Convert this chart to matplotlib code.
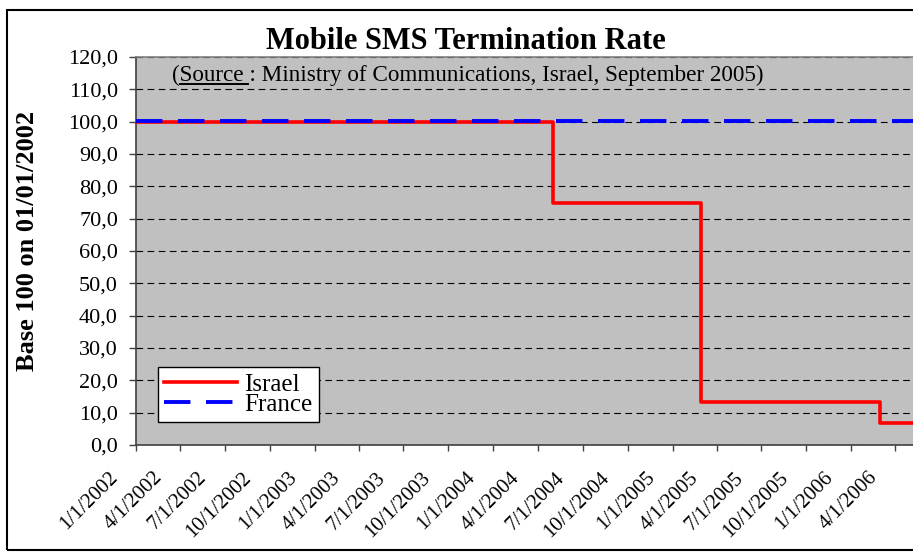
import matplotlib
matplotlib.use('Agg')
import matplotlib.pyplot as plt
import matplotlib.dates as mdates
import matplotlib.transforms as mtransforms
from matplotlib.lines import Line2D
from matplotlib.patches import Rectangle
from matplotlib.ticker import FuncFormatter
from matplotlib.font_manager import FontProperties
from datetime import datetime

plt.rcParams['font.family'] = ['Liberation Serif', 'DejaVu Serif']

# quarterly category labels on the x axis
tick_labels = ['1/1/2002', '4/1/2002', '7/1/2002', '10/1/2002',
               '1/1/2003', '4/1/2003', '7/1/2003', '10/1/2003',
               '1/1/2004', '4/1/2004', '7/1/2004', '10/1/2004',
               '1/1/2005', '4/1/2005', '7/1/2005', '10/1/2005',
               '1/1/2006', '4/1/2006']

# Israel: step changes of the rate (base 100)
israel_dates = ['1/1/2002', '5/1/2004', '3/1/2005', '3/1/2006', '5/7/2006']
israel_values = [100.0, 74.8, 13.3, 6.7, 6.7]

# France: flat at base 100
france_dates = ['1/1/2002', '5/7/2006']
france_values = [100.3, 100.3]


def to_date(s):
    return datetime.strptime(s, '%m/%d/%Y')


W, H = 913, 553
fig = plt.figure(figsize=(W / 100, H / 100), dpi=100)
ax = fig.add_axes([136 / W, 1 - 445 / H, (W - 136) / W, (445 - 57) / H])
ax.set_facecolor('#C0C0C0')

ax.plot([to_date(d) for d in israel_dates], israel_values, drawstyle='steps-post',
        color='#FF0000', lw=2.6, label='Israel', zorder=3)
ax.plot([to_date(d) for d in france_dates], france_values,
        color='#0000FF', lw=2.8, ls=(0, (6.8, 4)), label='France', zorder=4)

ax.set_xlim(to_date('1/1/2002'), to_date('5/7/2006'))
ax.set_ylim(0, 120)
ax.set_yticks(range(0, 121, 10))
ax.yaxis.set_major_formatter(FuncFormatter(lambda v, p: f'{v:.1f}'.replace('.', ',')))
ax.set_xticks([mdates.date2num(to_date(s)) for s in tick_labels])
ax.set_xticklabels(tick_labels, rotation=45, ha='right')

ax.tick_params(axis='x', direction='out', length=4.3, width=1, color='#404040',
               pad=12.5, labelsize=15)
ax.tick_params(axis='y', direction='out', length=5.0, width=1, color='#404040',
               pad=8, labelsize=16)
# shift the slanted date labels a little to the left of their ticks
for lbl in ax.get_xticklabels():
    lbl.set_transform(lbl.get_transform() +
                      mtransforms.ScaledTranslation(-14 / 100, 0, fig.dpi_scale_trans))

ax.yaxis.grid(True, color='black', ls=(0, (6, 4)), lw=0.8)
ax.set_axisbelow(True)
ax.spines['right'].set_visible(False)
ax.spines['top'].set_color('#808080')
ax.spines['left'].set_color('#404040')
ax.spines['bottom'].set_color('#404040')
for s in ('left', 'bottom', 'top'):
    ax.spines[s].set_linewidth(1.2)

leg = ax.legend(loc='upper left', bbox_to_anchor=(158 / W, 1 - 367 / H),
                bbox_transform=fig.transFigure, fancybox=False, edgecolor='black',
                framealpha=1, fontsize=18, handlelength=2.9, handletextpad=0.3,
                borderpad=0.25, labelspacing=-0.1, borderaxespad=0)
leg.get_frame().set_linewidth(1.0)

fig.text(466 / W, 1 - 49 / H, 'Mobile SMS Termination Rate', ha='center', va='baseline',
         fontsize=22, fontweight='bold')
fig.text(28 / W, 1 - 241 / H, 'Base 100 on 01/01/2002', rotation=90, ha='center',
         va='center', fontsize=19, fontweight='bold')

sub_x, sub_y = 172, 81
sub_size = 16.7
fig.text(sub_x / W, 1 - sub_y / H,
         '(Source : Ministry of Communications, Israel, September 2005)',
         ha='left', va='baseline', fontsize=sub_size)

# underline under "Source"
renderer = fig.canvas.get_renderer()
fp = FontProperties(family=['Liberation Serif'], size=sub_size)
w_open = renderer.get_text_width_height_descent('(', fp, ismath=False)[0]
w_word = renderer.get_text_width_height_descent('(Source', fp, ismath=False)[0]
fig.add_artist(Line2D([(sub_x + w_open) / W, (sub_x + w_word + 4) / W],
                      [1 - (sub_y + 3) / H, 1 - (sub_y + 3) / H],
                      transform=fig.transFigure, color='black', lw=1.4))

# chart area border
fig.add_artist(Rectangle((7 / W, 1 - 550 / H), 1.0, (550 - 10) / H, transform=fig.transFigure,
                         fill=False, edgecolor='black', lw=1.5))

fig.savefig('out.png', dpi=100)
